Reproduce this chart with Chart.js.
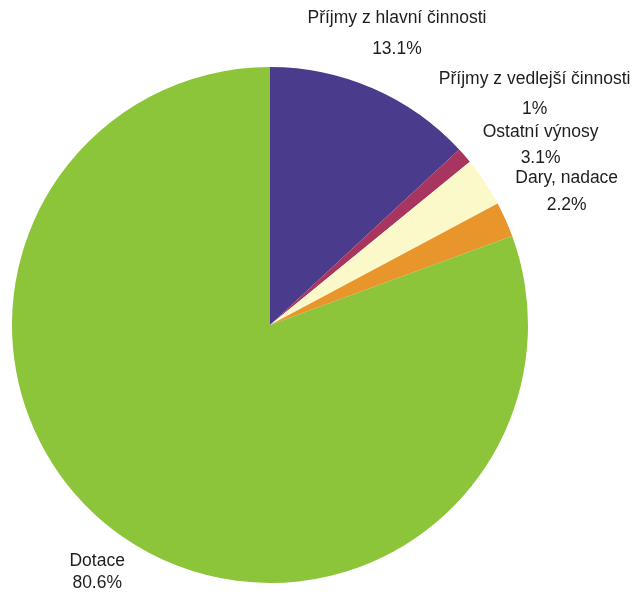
<!DOCTYPE html>
<html>
<head>
<meta charset="utf-8">
<script src="https://cdn.jsdelivr.net/npm/chart.js@4/dist/chart.umd.min.js"></script>
<style>
  html, body { margin: 0; padding: 0; background: #ffffff; }
  #c { display: block; }
</style>
</head>
<body>
<canvas id="c" width="634" height="594"></canvas>
<script>
const categories = ["Příjmy z hlavní činnosti", "Příjmy z vedlejší činnosti", "Ostatní výnosy", "Dary, nadace", "Dotace"];
const values = [13.1, 1, 3.1, 2.2, 80.6];
const valueLabels = ["13.1%", "1%", "3.1%", "2.2%", "80.6%"];
const colors = ["#4a3b8c", "#a8355f", "#fbf8c9", "#e8952c", "#8cc43a"];

const labelPlugin = {
  id: 'outerLabels',
  afterDraw(chart, args, opts) {
    const ctx = chart.ctx;
    const meta = chart.getDatasetMeta(0);
    ctx.save();
    ctx.font = opts.font;
    ctx.fillStyle = opts.color;
    ctx.textAlign = 'center';
    ctx.textBaseline = 'middle';
    meta.data.forEach((arc, i) => {
      const p = arc.getProps(['x', 'y', 'startAngle', 'endAngle', 'outerRadius'], true);
      const mid = (p.startAngle + p.endAngle) / 2;
      const r = p.outerRadius * opts.radiusFactors[i];
      const cx = p.x + Math.cos(mid) * r;
      const cy = p.y + Math.sin(mid) * r;
      const g = opts.lineGaps[i];
      ctx.fillText(categories[i], cx, cy - g / 2);
      ctx.fillText(valueLabels[i], cx, cy + g / 2);
    });
    ctx.restore();
  }
};

new Chart(document.getElementById('c'), {
  type: 'pie',
  data: {
    labels: categories,
    datasets: [{
      data: values,
      backgroundColor: colors,
      borderWidth: 0
    }]
  },
  options: {
    responsive: false,
    devicePixelRatio: 1,
    animation: false,
    layout: { padding: { left: 12, right: 106, top: 67, bottom: 11 } },
    plugins: {
      legend: { display: false },
      tooltip: { enabled: false },
      outerLabels: {
        font: '17.5px "Liberation Sans", Arial, sans-serif',
        color: '#1e1e1e',
        radiusFactors: [1.23, 1.36, 1.26, 1.26, 1.17],
        lineGaps: [31, 30, 26, 27, 22]
      }
    }
  },
  plugins: [labelPlugin]
});
</script>
</body>
</html>
